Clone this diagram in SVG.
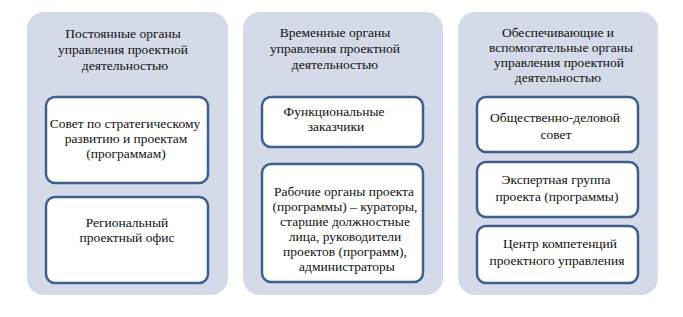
<svg xmlns="http://www.w3.org/2000/svg" width="683" height="317" viewBox="0 0 683 317">
<style>
.panel{fill:#d5dae8;stroke:none}
.box{fill:#ffffff;stroke:#3d5f8f;stroke-width:2.5}
text{font-size:13.5px;fill:#111;text-anchor:middle}
</style>
<rect width="683" height="317" fill="#ffffff"/>
<g id="panel1">
<rect class="panel" x="27" y="12" width="201" height="283" rx="17"/>
<text font-family="Liberation Serif" x="123" y="38">Постоянные органы</text>
<text font-family="Liberation Serif" x="123" y="54">управления проектной</text>
<text font-family="Liberation Serif" x="125" y="70">деятельностью</text>
</g>
<g id="node-sovet">
<rect class="box" x="46" y="97" width="162" height="86" rx="9"/>
<text font-family="Liberation Serif" x="125" y="128">Совет по стратегическому</text>
<text font-family="Liberation Serif" x="126" y="143">развитию и проектам</text>
<text font-family="Liberation Serif" x="126" y="158">(программам)</text>
</g>
<g id="node-office">
<rect class="box" x="46" y="197" width="162" height="86" rx="9"/>
<text font-family="Liberation Serif" x="127" y="227">Региональный</text>
<text font-family="Liberation Serif" x="127" y="242">проектный офис</text>
</g>
<g id="panel2">
<rect class="panel" x="243" y="12" width="200" height="283" rx="17"/>
<text font-family="Liberation Serif" x="335" y="37">Временные органы</text>
<text font-family="Liberation Serif" x="335" y="53">управления проектной</text>
<text font-family="Liberation Serif" x="335" y="69">деятельностью</text>
</g>
<g id="node-func">
<rect class="box" x="262" y="97" width="161" height="50" rx="9"/>
<text font-family="Liberation Serif" x="334" y="116">Функциональные</text>
<text font-family="Liberation Serif" x="336" y="131">заказчики</text>
</g>
<g id="node-work">
<rect class="box" x="262" y="164" width="161" height="118" rx="9"/>
<text font-family="Liberation Serif" x="344" y="196">Рабочие органы проекта</text>
<text font-family="Liberation Serif" x="345" y="211">(программы) – кураторы,</text>
<text font-family="Liberation Serif" x="345" y="226">старшие должностные</text>
<text font-family="Liberation Serif" x="345" y="241">лица, руководители</text>
<text font-family="Liberation Serif" x="345" y="256">проектов (программ),</text>
<text font-family="Liberation Serif" x="347" y="271">администраторы</text>
</g>
<g id="panel3">
<rect class="panel" x="458" y="12" width="200" height="283" rx="17"/>
<text font-family="Liberation Serif" x="558" y="37">Обеспечивающие и</text>
<text font-family="Liberation Serif" x="561" y="52">вспомогательные органы</text>
<text font-family="Liberation Serif" x="559" y="67">управления проектной</text>
<text font-family="Liberation Serif" x="558" y="82">деятельностью</text>
</g>
<g id="node-public">
<rect class="box" x="477" y="97" width="161" height="55" rx="9"/>
<text font-family="Liberation Serif" x="555" y="122">Общественно-деловой</text>
<text font-family="Liberation Serif" x="556" y="139">совет</text>
</g>
<g id="node-expert">
<rect class="box" x="477" y="162" width="161" height="55" rx="9"/>
<text font-family="Liberation Serif" x="556" y="184">Экспертная группа</text>
<text font-family="Liberation Serif" x="557" y="201">проекта (программы)</text>
</g>
<g id="node-center">
<rect class="box" x="477" y="226" width="161" height="57" rx="9"/>
<text font-family="Liberation Serif" x="560" y="248">Центр компетенций</text>
<text font-family="Liberation Serif" x="557" y="265">проектного управления</text>
</g>
<g id="connectors"></g>
</svg>
